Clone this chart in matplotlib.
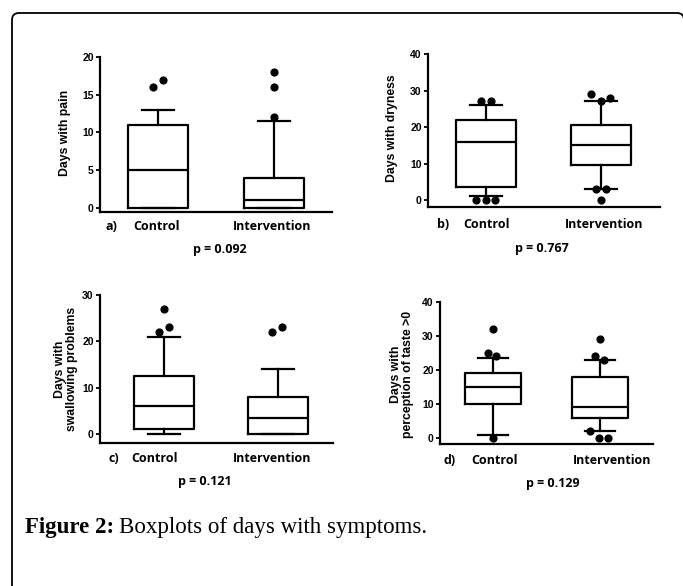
import matplotlib; matplotlib.use('Agg')
import matplotlib.pyplot as plt
from matplotlib.patches import FancyBboxPatch

plt.rcParams['font.family'] = ['Liberation Sans', 'DejaVu Sans']
W, H = 683, 586

# ---- data ----
groups = ['Control', 'Intervention']

pain_box = [[0, 5, 11], [0, 1, 4]]          # q1, median, q3
pain_whis = [[0, 13], [0, 11.5]]
pain_out = [[16, 17], [12, 16, 18]]

dry_box = [[3.5, 16, 22], [9.5, 15, 20.5]]
dry_whis = [[1, 26], [3, 27]]
dry_out = [[27, 27, 0, 0, 0], [29, 27, 28, 3, 3, 0]]

swal_box = [[1, 6, 12.5], [0, 3.5, 8]]
swal_whis = [[0, 21], [0, 14]]
swal_out = [[27, 23, 22], [22, 23]]

taste_box = [[10, 15, 19], [6, 9, 18]]
taste_whis = [[1, 23.5], [2, 23]]
taste_out = [[32, 25, 24, 0], [29, 24, 23, 2, 0, 0]]

p_values = ['0.092', '0.767', '0.121', '0.129']
ylabels = ['Days with pain', 'Days with dryness',
           'Days with\nswallowing problems', 'Days with\nperception of taste >0']
yticks = [[0, 5, 10, 15, 20], [0, 10, 20, 30, 40], [0, 10, 20, 30], [0, 10, 20, 30, 40]]

# ---- layout (pixels) ----
# axes box: left, top, right, bottom; ylim bottom; xlim
panels = [
    dict(box=pain_box, whis=pain_whis, out=pain_out, rect=(100, 57, 332, 212), ylo=-0.53, xlim=(0.5, 2.5),
         dx=[[-0.045, 0.045], [0, 0, 0]], ylab=(65, 133), lab_y=227, p=(220, 250), tag=(111, 227),
         cx=(156, 272)),
    dict(box=dry_box, whis=dry_whis, out=dry_out, rect=(428, 54, 660, 207), ylo=-1.9, xlim=(0.5, 2.51),
         dx=[[-0.045, 0.045, -0.085, 0, 0.08], [-0.085, 0, 0.08, -0.045, 0.045, 0]],
         ylab=(392, 128), lab_y=224, p=(542, 248), tag=(443, 224), cx=(487, 604)),
    dict(box=swal_box, whis=swal_whis, out=swal_out, rect=(100, 295, 333, 443), ylo=-1.94, xlim=(0.44, 2.48),
         dx=[[0, 0.045, -0.045], [-0.05, 0.03]], ylab=(66, 369), lab_y=458, p=(205, 482), tag=(114, 458),
         cx=(155, 272)),
    dict(box=taste_box, whis=taste_whis, out=taste_out, rect=(440, 302, 653, 444), ylo=-1.76, xlim=(0.505, 2.495),
         dx=[[0, -0.045, 0.03, 0], [0, -0.045, 0.04, -0.09, -0.01, 0.075]],
         ylab=(402, 374), lab_y=460, p=(553, 483), tag=(450, 460), cx=(494, 612)),
]
letters = ['a)', 'b)', 'c)', 'd)']

fig = plt.figure(figsize=(W / 100, H / 100), dpi=100)

def fx(x): return x / W
def fy(y): return 1 - y / H

# outer rounded frame, drawn in pixel units on a full-figure axes
bg = fig.add_axes([0, 0, 1, 1], zorder=-1)
bg.set_xlim(0, W); bg.set_ylim(H, 0); bg.axis('off')
bg.add_patch(FancyBboxPatch((12, 13), 672, 620, boxstyle="round,pad=0,rounding_size=7",
                            fc='none', ec='black', lw=1.3))

LW = 1.6
for i, P in enumerate(panels):
    l, t, r, b = P['rect']
    ax = fig.add_axes([fx(l), fy(b), (r - l) / W, (b - t) / H])
    stats = []
    for j, g in enumerate(groups):
        q1, med, q3 = P['box'][j]
        lo, hi = P['whis'][j]
        stats.append(dict(label=g, q1=q1, med=med, q3=q3, whislo=lo, whishi=hi, fliers=[]))
    ax.bxp(stats, positions=[1, 2], widths=0.52, capwidths=0.28, showfliers=False,
           boxprops=dict(color='black', lw=LW), whiskerprops=dict(color='black', lw=LW),
           capprops=dict(color='black', lw=LW), medianprops=dict(color='black', lw=LW))
    for j in range(2):
        vals = P['out'][j]
        xs = [j + 1 + d for d in P['dx'][j]]
        ax.scatter(xs, vals, s=24, color='black', zorder=5, clip_on=False)
    ax.set_xlim(*P['xlim'])
    ax.set_ylim(P['ylo'], yticks[i][-1])
    ax.set_yticks(yticks[i])
    ax.set_xticks([])
    for s in ['top', 'right']:
        ax.spines[s].set_visible(False)
    for s in ['left', 'bottom']:
        ax.spines[s].set_linewidth(LW)
    ax.tick_params(axis='y', length=3, width=1.3, pad=1.5, labelsize=7.5)
    for lab in ax.get_yticklabels():
        lab.set_fontweight('bold')
    ax.patch.set_alpha(0)

    fig.text(fx(P['ylab'][0]), fy(P['ylab'][1]), ylabels[i], rotation=90, ha='center', va='center',
             fontsize=8.8, fontweight='bold', linespacing=1.05)
    fig.text(fx(P['tag'][0]), fy(P['lab_y']), letters[i], ha='center', va='center',
             fontsize=9, fontweight='bold', family=['Open Sans', 'DejaVu Sans'])
    for j, g in enumerate(groups):
        fig.text(fx(P['cx'][j]), fy(P['lab_y']), g, ha='center', va='center',
                 fontsize=9, fontweight='bold', family=['Open Sans', 'DejaVu Sans'])
    fig.text(fx(P['p'][0]), fy(P['p'][1]), 'p = ' + p_values[i], ha='center', va='center',
             fontsize=9, fontweight='bold', family=['Open Sans', 'DejaVu Sans'])

# caption
t1 = fig.text(fx(25), fy(533), 'Figure 2:', ha='left', va='baseline', fontsize=16.5, fontweight='bold',
              family=['Liberation Serif', 'DejaVu Serif'])
fig.canvas.draw()
bb = t1.get_window_extent()
fig.text(bb.x1 / W + fx(5), fy(533), 'Boxplots of days with symptoms.', ha='left', va='baseline',
         fontsize=16.5, family=['Liberation Serif', 'DejaVu Serif'])

fig.savefig('out.png', dpi=100)
